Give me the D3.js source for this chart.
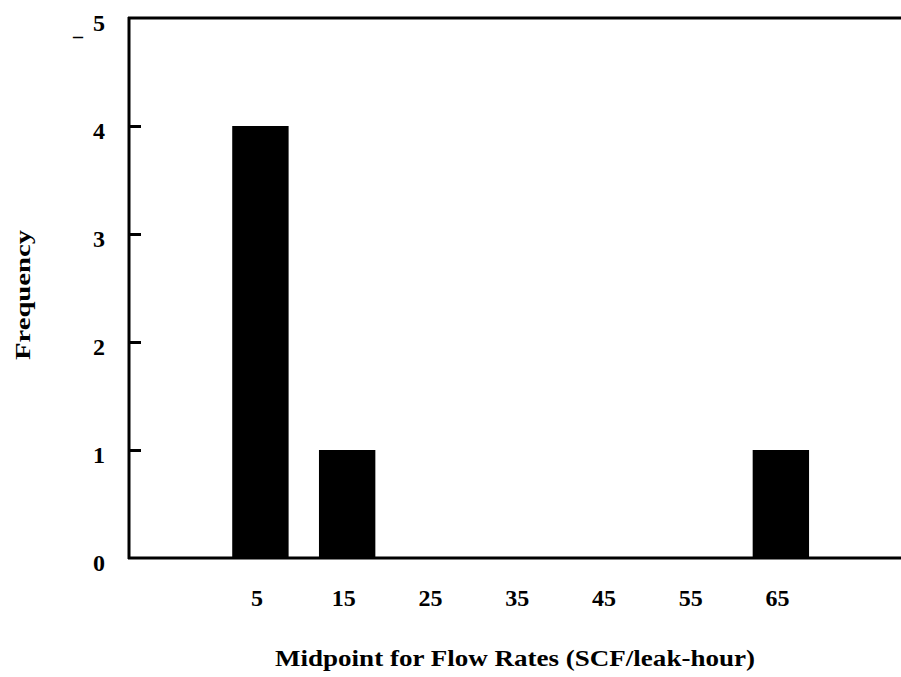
<!DOCTYPE html>
<html lang="en">
<head>
    <meta charset="UTF-8">
    <title>Flow Rate Frequency</title>
    <script src="https://d3js.org/d3.v7.min.js"></script>
    <style>
        * { margin: 0; padding: 0; box-sizing: border-box; }
        body { background: white; }
        svg { display: block; }
        text { font-family: "Liberation Serif", "Times New Roman", serif; font-weight: bold; fill: black; }
    </style>
</head>
<body>
    <svg width="901" height="677"></svg>

    <script>
        // histogram bins (midpoints) and counts
        const midpoints = [5, 15, 25, 35, 45, 55, 65];
        const frequency = [4, 1, 0, 0, 0, 0, 1];
        const yTicks = [0, 1, 2, 3, 4, 5];

        const svg = d3.select("svg");

        const x = d3.scaleLinear().domain([-10, 79]).range([129, 901]);
        const y = d3.scaleLinear().domain([0, 5]).range([558, 18]);

        // bars
        svg.append("g")
            .selectAll("rect")
            .data(midpoints.map((m, i) => ({ m, f: frequency[i] })).filter(d => d.f > 0))
            .join("rect")
            .attr("x", d => x(d.m - 3.1))
            .attr("width", d => x(d.m + 3.4) - x(d.m - 3.1))
            .attr("y", d => y(d.f))
            .attr("height", d => y(0) - y(d.f))
            .attr("fill", "black");

        // y axis with inward ticks
        const yAxis = svg.append("g")
            .attr("transform", `translate(${x(-10)},0)`)
            .call(d3.axisRight(y).tickValues(yTicks.slice(1, -1)).tickSize(12).tickFormat(""));
        yAxis.select(".domain").remove();
        yAxis.selectAll("line").attr("stroke", "black").attr("stroke-width", 3);

        // frame lines (left, top, bottom)
        svg.append("line")
            .attr("x1", x(-10)).attr("x2", x(-10))
            .attr("y1", y(5) - 1).attr("y2", y(0) + 1)
            .attr("stroke", "black").attr("stroke-width", 3);
        svg.append("line")
            .attr("x1", x(-10) - 1).attr("x2", 901)
            .attr("y1", y(5)).attr("y2", y(5))
            .attr("stroke", "black").attr("stroke-width", 3);
        svg.append("line")
            .attr("x1", x(-10) - 1).attr("x2", 901)
            .attr("y1", y(0)).attr("y2", y(0))
            .attr("stroke", "black").attr("stroke-width", 3);

        // y tick labels
        svg.append("g")
            .selectAll("text")
            .data(yTicks)
            .join("text")
            .attr("x", 105)
            .attr("y", d => y(d) + 13)
            .attr("text-anchor", "end")
            .attr("font-size", 24)
            .text(d => d);

        // small stray dash next to the top label, as in the scan
        svg.append("text")
            .attr("x", 73)
            .attr("y", 43)
            .attr("font-size", 20)
            .text("–");

        // x tick labels
        svg.append("g")
            .selectAll("text")
            .data(midpoints)
            .join("text")
            .attr("x", d => x(d) - 2)
            .attr("y", 606)
            .attr("text-anchor", "middle")
            .attr("font-size", 24)
            .text(d => d);

        // axis titles
        svg.append("text")
            .attr("x", 275)
            .attr("y", 666)
            .attr("font-size", 24)
            .attr("textLength", 480)
            .attr("lengthAdjust", "spacingAndGlyphs")
            .text("Midpoint for Flow Rates (SCF/leak-hour)");

        svg.append("text")
            .attr("transform", "translate(30,360) rotate(-90)")
            .attr("font-size", 22)
            .attr("textLength", 130)
            .attr("lengthAdjust", "spacingAndGlyphs")
            .text("Frequency");
    </script>
</body>
</html>
